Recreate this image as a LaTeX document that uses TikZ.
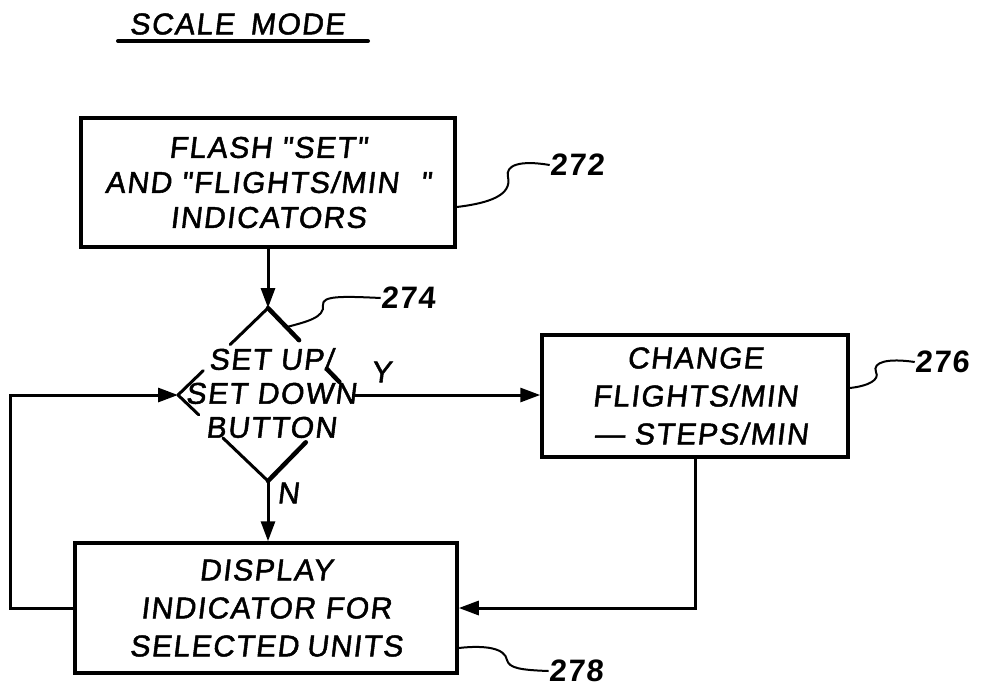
\documentclass[tikz,border=0pt]{standalone}
\usepackage{fontspec}
\newfontfamily\lett[FakeSlant=0.12,FakeBold=1.6,LetterSpace=5]{Liberation Sans}
\newfontfamily\numfont[FakeSlant=0.08,LetterSpace=4]{Liberation Sans Bold}
\usetikzlibrary{arrows.meta,calc}
\begin{document}
\begin{tikzpicture}[x=1pt,y=-1pt,
  box/.style={draw,line width=3.5pt,rectangle,inner sep=0pt,align=center,font=\lett\fontsize{30}{36}\selectfont},
  lbl/.style={font=\lett\fontsize{30}{36}\selectfont,inner sep=0pt},
  num/.style={font=\numfont\fontsize{31}{36}\selectfont,inner sep=0pt},
  conn/.style={line width=3pt},
  arr/.style={conn,-{Triangle[length=20pt,width=14pt]}},
  lead/.style={line width=2pt},
  dseg/.style={line width=3pt,line cap=round},
  dsegb/.style={line width=4.5pt,line cap=round}]
\useasboundingbox (0,0) rectangle (981,689);

% title
\node[lbl] (title) at (237,24) {SCALE\hspace{16pt}MODE};
\draw[line width=4pt,line cap=round] (118,41) -- (368,41);

% boxes
\node[box,minimum width=374pt,minimum height=129pt] (b272) at (268,182.5)
  {FLASH "SET"\\[-1pt]AND "FLIGHTS/MIN\hspace{22pt}"\\[-1pt]INDICATORS};
\node[box,minimum width=306pt,minimum height=122pt,font=\lett\fontsize{30}{38}\selectfont] (b276) at (695,396)
  {CHANGE\\FLIGHTS/MIN\\\hspace{12pt}— STEPS/MIN};
\node[box,minimum width=382pt,minimum height=130pt,font=\lett\fontsize{30}{38}\selectfont] (b278) at (266,608)
  {DISPLAY\\INDICATOR\hspace{10pt}FOR\\SELECTED\hspace{8pt}UNITS};

% decision diamond
\coordinate (dT) at (268,308);
\coordinate (dL) at (178,395);
\coordinate (dB) at (268,481);
\coordinate (dR) at (352,395);
\node[lbl,align=center,font=\lett\fontsize{30}{34}\selectfont] (dtxt) at (271,393) {SET UP/\\SET DOWN\\BUTTON};
\draw[dseg] (dT) -- ($(dT)!0.42!(dL)$);
\draw[dsegb] (dT) -- ($(dT)!0.37!(dR)$);
\draw[dseg] (dL) -- ($(dL)!0.28!(dT)$);
\draw[dseg] (dL) -- ($(dL)!0.23!(dB)$);
\draw[dseg] (dB) -- ($(dB)!0.5!(dL)$);
\draw[dsegb] (dB) -- ($(dB)!0.45!(dR)$);
\draw[dsegb] ($(dR)!0.15!(dT)$) -- ($(dR)!0.3!(dT)$);

% labels
\node[lbl] (yl) at (381,372) {Y};
\node[lbl] (nl) at (288,493) {N};
\node[num] (n272) at (577,165) {272};
\node[num] (n274) at (408,298) {274};
\node[num] (n276) at (942,362) {276};
\node[num] (n278) at (576,671) {278};

% connectors
\draw[arr] (b272.south) -- (dT);
\draw[arr] (dR) -- (dR -| b276.west);
\draw[arr] (dB) -- (dB |- b278.north);
\draw[arr] (b276.south) |- (b278.east);
\draw[arr] (b278.west) -- ++(-63,0) |- (dL);

% leader lines
\draw[lead] (b272.east |- 0,207) .. controls (490,203) and (512,195) .. (508,177)
  .. controls (505,165) and (520,160) .. (n272.west);
\draw[lead] ($(dT)!0.22!(dR)$) .. controls (305,322) and (325,318) .. (323,305)
  .. controls (322,296) and (340,296) .. (n274.west);
\draw[lead] (b276.east |- 0,388) .. controls (868,386) and (880,380) .. (876,372)
  .. controls (872,362) and (888,358) .. (n276.west);
\draw[lead] (b278.east |- 0,648) .. controls (485,645) and (505,648) .. (507,660)
  .. controls (509,668) and (520,670) .. (n278.west);
\end{tikzpicture}
\end{document}
